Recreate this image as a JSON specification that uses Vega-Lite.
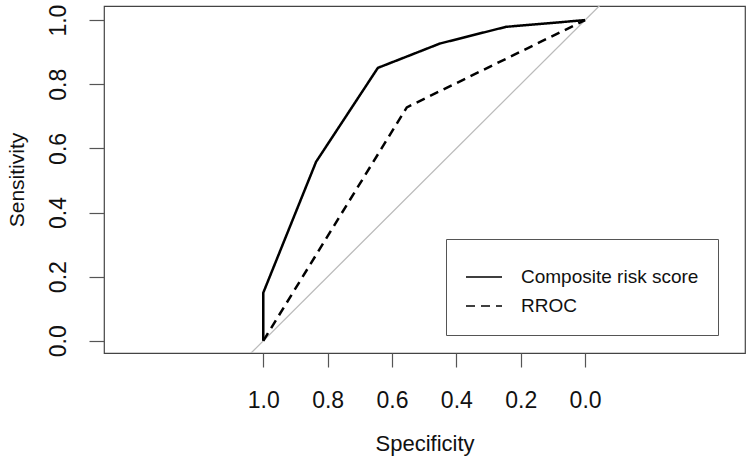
{
  "$schema": "https://vega.github.io/schema/vega-lite/v6.json",
  "width": 641,
  "height": 347,
  "autosize": "none",
  "padding": {"left": 104, "top": 6, "right": 5, "bottom": 109},
  "background": "white",
  "config": {
    "font": "Liberation Sans",
    "view": {"stroke": "#444", "strokeWidth": 1.2},
    "axis": {
      "grid": false,
      "domain": false,
      "tickColor": "#555",
      "tickWidth": 1.2,
      "labelColor": "#111",
      "titleColor": "#111",
      "labelFont": "Liberation Sans",
      "titleFont": "Liberation Sans",
      "titleFontWeight": "normal"
    }
  },
  "layer": [
    {
      "data": {"values": [
        {"spec": 1.1, "sens": -0.1},
        {"spec": -0.1, "sens": 1.1}
      ]},
      "mark": {"type": "line", "color": "#bbbbbb", "strokeWidth": 1.3, "clip": true},
      "encoding": {
        "x": {"field": "spec", "type": "quantitative"},
        "y": {"field": "sens", "type": "quantitative"}
      }
    },
    {
      "data": {"values": [
        {"model": "Composite risk score", "ord": 1, "spec": 1.0, "sens": 0.0},
        {"model": "Composite risk score", "ord": 2, "spec": 1.0, "sens": 0.15},
        {"model": "Composite risk score", "ord": 3, "spec": 0.836, "sens": 0.558},
        {"model": "Composite risk score", "ord": 4, "spec": 0.644, "sens": 0.851},
        {"model": "Composite risk score", "ord": 5, "spec": 0.451, "sens": 0.927},
        {"model": "Composite risk score", "ord": 6, "spec": 0.246, "sens": 0.979},
        {"model": "Composite risk score", "ord": 7, "spec": 0.0, "sens": 1.0},
        {"model": "RROC", "ord": 1, "spec": 1.0, "sens": 0.0},
        {"model": "RROC", "ord": 2, "spec": 0.554, "sens": 0.728},
        {"model": "RROC", "ord": 3, "spec": 0.0, "sens": 1.0}
      ]},
      "mark": {"type": "line", "color": "black", "strokeWidth": 2.5, "clip": true},
      "encoding": {
        "x": {
          "field": "spec", "type": "quantitative",
          "scale": {"domain": [-0.497, 1.495], "reverse": true, "nice": false, "zero": false},
          "axis": {
            "title": "Specificity",
            "values": [0, 0.2, 0.4, 0.6, 0.8, 1.0],
            "format": ".1f",
            "tickSize": 14,
            "labelFontSize": 23,
            "labelPadding": 22,
            "titleFontSize": 22,
            "titlePadding": 21
          }
        },
        "y": {
          "field": "sens", "type": "quantitative",
          "scale": {"domain": [-0.038, 1.044], "nice": false, "zero": false},
          "axis": {
            "title": "Sensitivity",
            "values": [0, 0.2, 0.4, 0.6, 0.8, 1.0],
            "format": ".1f",
            "tickSize": 15,
            "labelAngle": -90,
            "labelAlign": "center",
            "labelBaseline": "alphabetic",
            "labelFontSize": 23,
            "labelPadding": 24,
            "titleFontSize": 21,
            "titlePadding": 20
          }
        },
        "order": {"field": "ord", "type": "quantitative"},
        "strokeDash": {
          "field": "model", "type": "nominal",
          "scale": {"domain": ["Composite risk score", "RROC"], "range": [[1, 0], [9, 6]]},
          "legend": {
            "title": null,
            "orient": "none",
            "legendX": 342,
            "legendY": 233,
            "strokeColor": "#555",
            "fillColor": "white",
            "padding": 19,
            "rowPadding": -1,
            "symbolType": "stroke",
            "symbolSize": 1296,
            "symbolStrokeWidth": 1.3,
            "symbolStrokeColor": "black",
            "labelOffset": 18,
            "labelLimit": 400,
            "labelFontSize": 19,
            "labelColor": "#111",
            "labelFont": "Liberation Sans"
          }
        }
      }
    }
  ]
}
